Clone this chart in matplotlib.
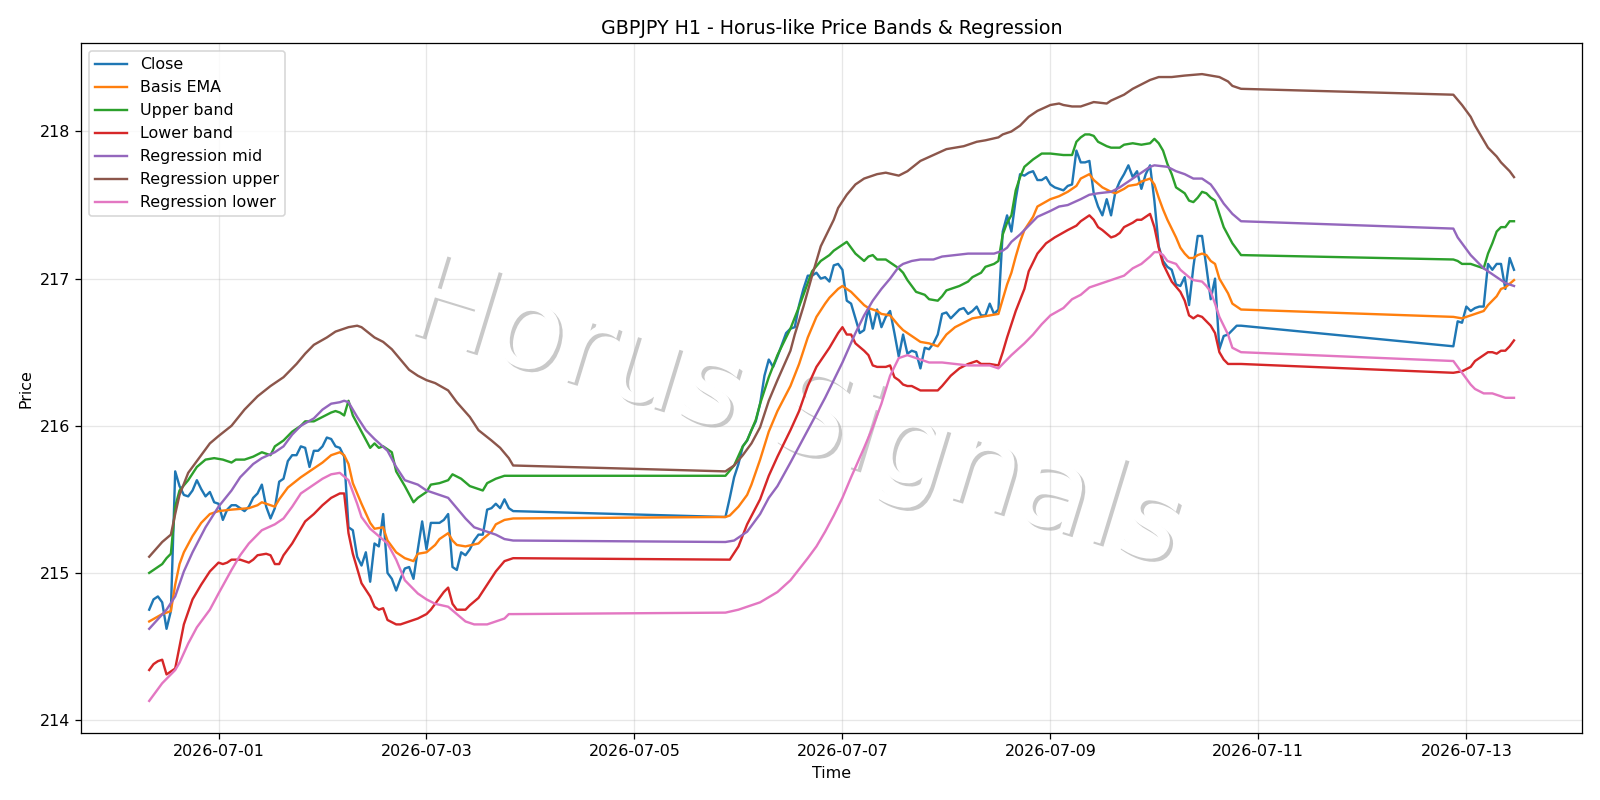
import matplotlib
matplotlib.use("Agg")
import matplotlib.pyplot as plt
import matplotlib.dates as mdates
import matplotlib.patheffects as pe
import numpy as np
import pandas as pd

# ---- time axis: hourly bars, weekend hours removed ----
segment_starts = ["2026-06-30 08:00", "2026-07-05 21:00", "2026-07-12 21:00"]
segment_lengths = [85, 120, 15]

# ---- Close (one value per bar) ----
close = [
    214.75, 214.82, 214.84, 214.80, 214.62, 214.74, 215.69, 215.59, 215.53, 215.52,
    215.56, 215.63, 215.57, 215.52, 215.55, 215.48, 215.47, 215.36, 215.43, 215.46,
    215.46, 215.44, 215.42, 215.45, 215.51, 215.54, 215.60, 215.45, 215.37, 215.44,
    215.62, 215.64, 215.76, 215.80, 215.80, 215.86, 215.85, 215.72, 215.83, 215.83,
    215.86, 215.92, 215.91, 215.86, 215.85, 215.79, 215.31, 215.29, 215.11, 215.05,
    215.14, 214.94, 215.20, 215.18, 215.40, 215.00, 214.96, 214.88, 214.96, 215.03,
    215.04, 214.96, 215.16, 215.35, 215.16, 215.34, 215.34, 215.34, 215.36, 215.40,
    215.04, 215.02, 215.14, 215.12, 215.16, 215.22, 215.26, 215.26, 215.43, 215.44,
    215.47, 215.44, 215.50, 215.44, 215.42,
    # second segment
    215.38, 215.51, 215.65, 215.74, 215.86, 215.90, 215.97, 216.03, 216.15, 216.34,
    216.45, 216.40, 216.47, 216.55, 216.63, 216.66, 216.67, 216.82, 216.93, 217.02,
    217.02, 217.04, 217.00, 217.01, 216.98, 217.09, 217.10, 217.06, 216.85, 216.83,
    216.73, 216.63, 216.65, 216.80, 216.66, 216.79, 216.67, 216.74, 216.78, 216.63,
    216.47, 216.62, 216.49, 216.51, 216.50, 216.39, 216.53, 216.52, 216.56, 216.62,
    216.76, 216.77, 216.73, 216.76, 216.79, 216.80, 216.76, 216.78, 216.81, 216.75,
    216.75, 216.83, 216.76, 216.79, 217.32, 217.43, 217.32, 217.54, 217.71, 217.70,
    217.72, 217.73, 217.67, 217.67, 217.69, 217.64, 217.62, 217.61, 217.60, 217.63,
    217.64, 217.87, 217.79, 217.79, 217.80, 217.58, 217.49, 217.43, 217.54, 217.43,
    217.59, 217.66, 217.71, 217.77, 217.69, 217.73, 217.61, 217.71, 217.77, 217.53,
    217.22, 217.12, 217.08, 217.06, 216.96, 216.95, 217.01, 216.82, 217.08, 217.29,
    217.29, 217.08, 216.86, 217.00, 216.52, 216.61, 216.62, 216.65, 216.68, 216.68,
    # third segment
    216.54, 216.71, 216.70, 216.81, 216.78, 216.80, 216.81, 216.81, 217.10, 217.06,
    217.10, 217.10, 216.93, 217.14, 217.06,
]

# ---- smooth series: (bar number, value) readings ----
ema_pts = [
    (0, 214.67), (3, 214.72), (5, 214.74), (6, 214.92), (7, 215.06), (8, 215.14), (10, 215.25),
    (12, 215.34), (14, 215.40), (16, 215.42), (19, 215.43), (23, 215.44), (25, 215.46), (26, 215.48),
    (27, 215.47), (29, 215.45), (30, 215.50), (32, 215.58), (35, 215.65), (37, 215.69), (38, 215.71),
    (40, 215.75), (42, 215.80), (44, 215.82), (45, 215.80), (46, 215.74), (47, 215.61), (49, 215.47),
    (51, 215.34), (52, 215.30), (54, 215.31), (55, 215.22), (57, 215.14), (59, 215.10), (61, 215.08),
    (62, 215.13), (64, 215.14), (66, 215.19), (67, 215.23), (69, 215.27), (70, 215.22), (71, 215.19),
    (73, 215.18), (76, 215.20), (77, 215.23), (79, 215.28), (80, 215.33), (82, 215.36), (84, 215.37),
    (85, 215.38), (86, 215.39), (88, 215.45), (90, 215.53), (91, 215.60), (93, 215.77), (95, 215.96),
    (97, 216.10), (100, 216.27), (102, 216.42), (104, 216.60), (106, 216.74), (108, 216.83),
    (109, 216.87), (111, 216.93), (112, 216.95), (114, 216.91), (115, 216.88), (117, 216.82),
    (118, 216.80), (120, 216.78), (121, 216.76), (123, 216.75), (125, 216.68), (126, 216.65),
    (127, 216.63), (129, 216.59), (130, 216.57), (132, 216.56), (133, 216.55), (134, 216.54),
    (135, 216.58), (136, 216.62), (138, 216.67), (140, 216.70), (142, 216.73), (144, 216.74),
    (146, 216.75), (148, 216.76), (149, 216.86), (150, 216.96), (151, 217.04), (152, 217.15),
    (153, 217.25), (154, 217.33), (156, 217.42), (157, 217.49), (160, 217.54), (162, 217.56),
    (164, 217.59), (166, 217.63), (167, 217.68), (169, 217.71), (170, 217.67), (172, 217.62),
    (174, 217.59), (175, 217.58), (177, 217.61), (178, 217.63), (180, 217.64), (181, 217.66),
    (183, 217.68), (184, 217.64), (185, 217.55), (186, 217.47), (187, 217.40), (189, 217.28),
    (190, 217.21), (191, 217.17), (192, 217.14), (193, 217.14), (194, 217.16), (195, 217.17),
    (196, 217.16), (197, 217.12), (198, 217.10), (199, 217.00), (201, 216.90), (202, 216.83),
    (204, 216.79),
    (205, 216.74), (207, 216.73), (209, 216.75), (210, 216.76), (212, 216.78), (213, 216.82),
    (215, 216.88), (216, 216.93), (217, 216.94), (219, 216.99),
]

upper_pts = [
    (0, 215.00), (2, 215.04), (3, 215.06), (4, 215.10), (5, 215.13), (6, 215.45), (7, 215.56),
    (9, 215.63), (11, 215.72), (13, 215.77), (15, 215.78), (17, 215.77), (19, 215.75), (20, 215.77),
    (22, 215.77), (24, 215.79), (26, 215.82), (28, 215.80), (29, 215.86), (31, 215.90), (32, 215.93),
    (33, 215.96), (35, 216.00), (36, 216.03), (38, 216.03), (40, 216.06), (42, 216.09), (43, 216.10),
    (44, 216.09), (45, 216.07), (46, 216.17), (47, 216.07), (49, 215.96), (51, 215.85), (52, 215.88),
    (53, 215.85), (54, 215.86), (56, 215.82), (57, 215.69), (59, 215.59), (61, 215.48), (62, 215.51),
    (64, 215.55), (65, 215.60), (67, 215.61), (69, 215.63), (70, 215.67), (72, 215.64), (74, 215.59),
    (76, 215.57), (77, 215.56), (78, 215.61), (80, 215.64), (82, 215.66), (84, 215.66),
    (85, 215.66), (87, 215.73), (89, 215.86), (90, 215.90), (92, 216.04), (93, 216.15), (95, 216.33),
    (97, 216.48), (99, 216.60), (100, 216.66), (102, 216.81), (104, 216.97), (105, 217.05),
    (107, 217.12), (109, 217.16), (110, 217.19), (112, 217.23), (113, 217.25), (114, 217.21),
    (115, 217.17), (117, 217.12), (118, 217.15), (119, 217.16), (120, 217.13), (122, 217.13),
    (123, 217.11), (125, 217.07), (126, 217.04), (127, 216.99), (129, 216.91), (131, 216.89),
    (132, 216.86), (134, 216.85), (135, 216.88), (136, 216.92), (138, 216.94), (139, 216.95),
    (141, 216.98), (142, 217.01), (144, 217.04), (145, 217.08), (147, 217.10), (148, 217.12),
    (149, 217.30), (150, 217.38), (151, 217.43), (152, 217.60), (153, 217.69), (154, 217.76),
    (156, 217.81), (158, 217.85), (160, 217.85), (163, 217.84), (165, 217.84), (166, 217.93),
    (167, 217.96), (168, 217.98), (169, 217.98), (170, 217.97), (171, 217.93), (173, 217.90),
    (174, 217.89), (176, 217.89), (177, 217.91), (179, 217.92), (181, 217.91), (183, 217.92),
    (184, 217.95), (185, 217.92), (186, 217.87), (187, 217.78), (188, 217.71), (189, 217.62),
    (191, 217.58), (192, 217.53), (193, 217.52), (194, 217.55), (195, 217.59), (196, 217.58),
    (197, 217.55), (198, 217.53), (199, 217.44), (200, 217.35), (202, 217.24), (204, 217.16),
    (205, 217.13), (206, 217.12), (207, 217.10), (209, 217.10), (210, 217.09), (212, 217.07),
    (213, 217.17), (214, 217.24), (215, 217.32), (216, 217.35), (217, 217.35), (218, 217.39),
    (219, 217.39),
]

lower_pts = [
    (0, 214.34), (1, 214.38), (2, 214.40), (3, 214.41), (4, 214.31), (5, 214.33), (6, 214.35),
    (7, 214.50), (8, 214.65), (10, 214.82), (12, 214.92), (14, 215.01), (16, 215.07), (17, 215.06),
    (18, 215.07), (19, 215.09), (21, 215.09), (23, 215.07), (24, 215.09), (25, 215.12), (27, 215.13),
    (28, 215.12), (29, 215.06), (30, 215.06), (31, 215.12), (33, 215.20), (35, 215.30), (36, 215.35),
    (38, 215.40), (40, 215.46), (42, 215.51), (44, 215.54), (45, 215.54), (46, 215.27), (47, 215.13),
    (48, 215.03), (49, 214.93), (51, 214.84), (52, 214.77), (53, 214.75), (54, 214.76), (55, 214.68),
    (57, 214.65), (58, 214.65), (60, 214.67), (62, 214.69), (64, 214.72), (65, 214.75), (67, 214.83),
    (68, 214.87), (69, 214.90), (70, 214.79), (71, 214.75), (73, 214.75), (74, 214.78), (76, 214.83),
    (78, 214.92), (80, 215.01), (82, 215.08), (84, 215.10),
    (85, 215.09), (86, 215.09), (88, 215.18), (90, 215.33), (93, 215.50), (95, 215.66), (97, 215.79),
    (100, 215.97), (102, 216.10), (104, 216.27), (106, 216.40), (109, 216.53), (111, 216.63),
    (112, 216.67), (113, 216.62), (114, 216.62), (115, 216.56), (117, 216.51), (118, 216.48),
    (119, 216.41), (120, 216.40), (122, 216.40), (123, 216.41), (124, 216.33), (125, 216.31),
    (126, 216.28), (127, 216.27), (128, 216.27), (130, 216.24), (132, 216.24), (134, 216.24),
    (135, 216.27), (137, 216.34), (139, 216.39), (141, 216.42), (142, 216.43), (143, 216.44),
    (144, 216.42), (146, 216.42), (148, 216.41), (149, 216.50), (150, 216.60), (152, 216.78),
    (154, 216.93), (155, 217.05), (157, 217.17), (159, 217.24), (161, 217.28), (164, 217.33),
    (166, 217.36), (167, 217.39), (168, 217.41), (169, 217.43), (170, 217.40), (171, 217.35),
    (172, 217.33), (174, 217.28), (175, 217.29), (176, 217.31), (177, 217.35), (179, 217.38),
    (180, 217.40), (181, 217.40), (183, 217.44), (184, 217.35), (185, 217.21), (186, 217.10),
    (187, 217.04), (188, 216.98), (190, 216.91), (191, 216.85), (192, 216.75), (193, 216.73),
    (194, 216.75), (195, 216.74), (197, 216.68), (198, 216.63), (199, 216.50), (200, 216.45),
    (201, 216.42), (204, 216.42),
    (205, 216.36), (207, 216.37), (209, 216.40), (210, 216.44), (212, 216.48), (213, 216.50),
    (214, 216.50), (215, 216.49), (216, 216.51), (217, 216.51), (218, 216.54), (219, 216.58),
]

reg_mid_pts = [
    (0, 214.62), (4, 214.75), (6, 214.84), (8, 215.01), (10, 215.14), (13, 215.31), (16, 215.45),
    (19, 215.56), (21, 215.65), (24, 215.74), (26, 215.78), (29, 215.82), (31, 215.86), (33, 215.94),
    (35, 216.00), (38, 216.05), (40, 216.11), (42, 216.15), (44, 216.16), (45, 216.17), (46, 216.16),
    (48, 216.06), (50, 215.97), (52, 215.91), (55, 215.83), (57, 215.72), (59, 215.63), (62, 215.60),
    (64, 215.56), (66, 215.54), (69, 215.51), (71, 215.44), (73, 215.37), (75, 215.31), (78, 215.28),
    (80, 215.26), (82, 215.23), (84, 215.22),
    (85, 215.21), (87, 215.22), (90, 215.28), (92, 215.36), (93, 215.40), (95, 215.51), (97, 215.59),
    (100, 215.75), (102, 215.86), (104, 215.97), (106, 216.08), (108, 216.19), (110, 216.31),
    (112, 216.43), (115, 216.63), (117, 216.75), (119, 216.85), (121, 216.93), (123, 217.00),
    (125, 217.08), (126, 217.10), (128, 217.12), (130, 217.13), (133, 217.13), (135, 217.15),
    (138, 217.16), (141, 217.17), (144, 217.17), (147, 217.17), (149, 217.19), (150, 217.21),
    (151, 217.25), (153, 217.30), (155, 217.36), (157, 217.42), (160, 217.46), (162, 217.49),
    (164, 217.50), (167, 217.54), (169, 217.57), (171, 217.58), (174, 217.59), (176, 217.62),
    (178, 217.66), (180, 217.70), (183, 217.76), (184, 217.77), (187, 217.76), (189, 217.73),
    (191, 217.71), (193, 217.68), (195, 217.68), (197, 217.64), (198, 217.60), (200, 217.51),
    (202, 217.44), (204, 217.39),
    (205, 217.34), (206, 217.28), (208, 217.20), (209, 217.16), (211, 217.10), (212, 217.07),
    (214, 217.03), (215, 217.01), (217, 216.97), (219, 216.95),
]

reg_upper_pts = [
    (0, 215.11), (3, 215.21), (5, 215.26), (6, 215.40), (7, 215.53), (9, 215.68), (12, 215.80),
    (14, 215.88), (16, 215.93), (19, 216.00), (22, 216.11), (25, 216.20), (28, 216.27), (31, 216.33),
    (34, 216.42), (36, 216.49), (38, 216.55), (41, 216.60), (43, 216.64), (44, 216.65), (46, 216.67),
    (48, 216.68), (49, 216.67), (52, 216.60), (54, 216.57), (56, 216.52), (58, 216.45), (60, 216.38),
    (62, 216.34), (64, 216.31), (66, 216.29), (69, 216.24), (71, 216.16), (74, 216.06), (76, 215.97),
    (79, 215.90), (81, 215.85), (83, 215.78), (84, 215.73),
    (85, 215.69), (87, 215.73), (89, 215.80), (91, 215.88), (93, 215.99), (95, 216.17), (97, 216.31),
    (100, 216.51), (101, 216.62), (103, 216.81), (105, 217.02), (107, 217.22), (110, 217.40),
    (111, 217.48), (113, 217.57), (115, 217.64), (117, 217.68), (120, 217.71), (122, 217.72),
    (125, 217.70), (127, 217.73), (130, 217.80), (133, 217.84), (136, 217.88), (138, 217.89),
    (140, 217.90), (143, 217.93), (145, 217.94), (148, 217.96), (149, 217.98), (151, 218.00),
    (153, 218.04), (155, 218.10), (157, 218.14), (160, 218.18), (162, 218.19), (163, 218.18),
    (165, 218.17), (167, 218.17), (169, 218.19), (170, 218.20), (173, 218.19), (174, 218.21),
    (177, 218.25), (179, 218.29), (181, 218.32), (183, 218.35), (185, 218.37), (188, 218.37),
    (191, 218.38), (195, 218.39), (197, 218.38), (199, 218.37), (201, 218.34), (202, 218.31),
    (204, 218.29),
    (205, 218.25), (207, 218.18), (209, 218.10), (210, 218.04), (212, 217.94), (213, 217.89),
    (215, 217.83), (216, 217.79), (218, 217.73), (219, 217.69),
]

reg_lower_pts = [
    (0, 214.13), (3, 214.25), (6, 214.34), (7, 214.39), (9, 214.52), (11, 214.63), (14, 214.75),
    (16, 214.86), (19, 215.02), (21, 215.12), (23, 215.20), (26, 215.29), (29, 215.33), (31, 215.37),
    (33, 215.45), (35, 215.54), (38, 215.60), (40, 215.64), (42, 215.67), (44, 215.68), (46, 215.63),
    (48, 215.47), (49, 215.38), (51, 215.30), (53, 215.25), (55, 215.20), (57, 215.09), (59, 214.95),
    (62, 214.86), (64, 214.82), (66, 214.79), (69, 214.77), (71, 214.72), (73, 214.67), (75, 214.65),
    (78, 214.65), (80, 214.67), (82, 214.69), (83, 214.72), (84, 214.72),
    (85, 214.73), (88, 214.75), (91, 214.78), (93, 214.80), (97, 214.87), (100, 214.95), (104, 215.10),
    (106, 215.18), (108, 215.28), (110, 215.39), (112, 215.51), (114, 215.65), (117, 215.85),
    (119, 215.99), (121, 216.15), (123, 216.34), (125, 216.46), (127, 216.48), (128, 216.47),
    (130, 216.45), (132, 216.43), (135, 216.43), (138, 216.42), (141, 216.41), (144, 216.41),
    (146, 216.41), (148, 216.39), (149, 216.42), (151, 216.48), (154, 216.56), (156, 216.62),
    (158, 216.69), (160, 216.75), (163, 216.80), (165, 216.86), (167, 216.89), (169, 216.94),
    (170, 216.95), (172, 216.97), (174, 216.99), (177, 217.02), (179, 217.07), (181, 217.10),
    (183, 217.15), (184, 217.18), (185, 217.18), (186, 217.16), (187, 217.12), (189, 217.10),
    (190, 217.06), (192, 217.01), (193, 216.99), (195, 216.98), (196, 216.95), (197, 216.91),
    (198, 216.83), (199, 216.74), (201, 216.62), (202, 216.53), (204, 216.50),
    (205, 216.44), (207, 216.36), (209, 216.28), (210, 216.25), (212, 216.22), (214, 216.22),
    (215, 216.21), (217, 216.19), (219, 216.19),
]

tick_dates = ["2026-07-01", "2026-07-03", "2026-07-05", "2026-07-07",
              "2026-07-09", "2026-07-11", "2026-07-13"]

# ---- build index ----
times = pd.DatetimeIndex(np.concatenate([
    pd.date_range(s, periods=n, freq="h").values
    for s, n in zip(segment_starts, segment_lengths)
]))


def series(pts):
    bars = [p[0] for p in pts]
    vals = [p[1] for p in pts]
    return times[bars], vals


DPI = 1600 / 14
fig, ax = plt.subplots(figsize=(14, 7), dpi=DPI)
fig.subplots_adjust(left=0.0506, right=0.9889, bottom=0.0834, top=0.946)

ax.plot(times, close, color="C0", lw=1.5, label="Close")
for pts, col, lab in [
    (ema_pts, "C1", "Basis EMA"),
    (upper_pts, "C2", "Upper band"),
    (lower_pts, "C3", "Lower band"),
    (reg_mid_pts, "C4", "Regression mid"),
    (reg_upper_pts, "C5", "Regression upper"),
    (reg_lower_pts, "C6", "Regression lower"),
]:
    x, y = series(pts)
    ax.plot(x, y, color=col, lw=1.5, label=lab)

ax.text(0.475, 0.46, "Horus Signals", transform=ax.transAxes,
        fontsize=74, color="white", rotation=-17, rotation_mode="anchor",
        ha="center", va="center", zorder=1,
        path_effects=[pe.withSimplePatchShadow(offset=(2, -2))])

ax.set_xlim(pd.Timestamp("2026-06-29 16:15"), pd.Timestamp("2026-07-14 02:45"))
ax.set_ylim(213.91, 218.60)
ax.set_xticks(pd.to_datetime(tick_dates))
ax.xaxis.set_major_formatter(mdates.DateFormatter("%Y-%m-%d"))
ax.set_yticks([214, 215, 216, 217, 218])
ax.grid(True, alpha=0.3)
ax.set_title("GBPJPY H1 - Horus-like Price Bands & Regression")
ax.set_xlabel("Time")
ax.set_ylabel("Price")
ax.legend(loc="upper left")

fig.savefig("out.png", dpi=DPI)
